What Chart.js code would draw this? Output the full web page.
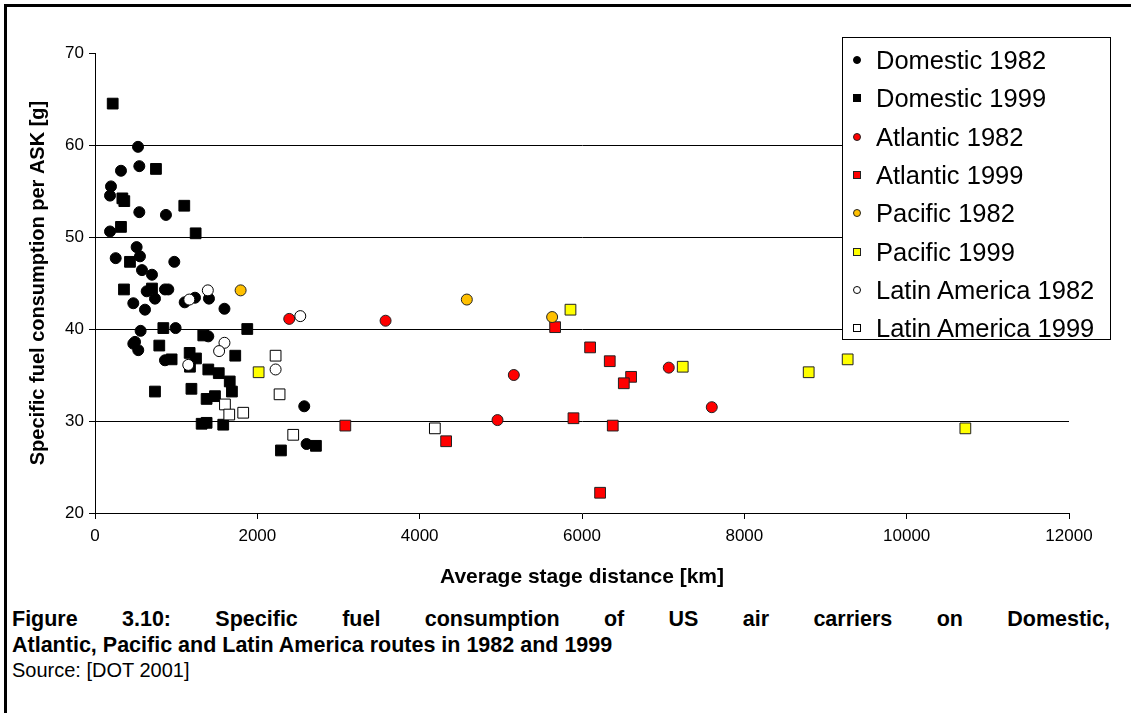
<!DOCTYPE html>
<html>
<head>
<meta charset="utf-8">
<script src="https://cdn.jsdelivr.net/npm/chart.js@4.4.0/dist/chart.umd.min.js"></script>
<style>
  body { margin: 0; background: #fff; font-family: Arial, "Liberation Sans", sans-serif; }
  #wrap { position: relative; width: 1131px; height: 713px; overflow: hidden; background: #fff; }
  #frame { position: absolute; left: 4px; top: 4px; width: 1140px; height: 720px; border-left: 3px solid #000; border-top: 3px solid #000; }
  #chart { position: absolute; left: 0; top: 0; }
  #legend { position: absolute; left: 842px; top: 37px; width: 267px; height: 301px; border: 1px solid #000; background: #fff; }
  .item { position: absolute; left: 0; height: 30px; line-height: 30px; font-size: 25.5px; color: #000; white-space: nowrap; }
  .item span.mk { position: absolute; left: 10px; top: 11px; width: 8px; height: 8px; box-sizing: border-box; }
  .item span.tx { position: absolute; left: 33px; }
  #caption { position: absolute; left: 12px; top: 606px; width: 1098px; font-weight: bold; font-size: 21.5px; line-height: 26px; color: #000; }
  #caption .l1 { text-align: justify; text-align-last: justify; }
  #source { position: absolute; left: 12px; top: 659px; font-size: 20px; color: #000; }
</style>
</head>
<body>
<div id="wrap">
  <div id="frame"></div>
  <canvas id="chart" width="1131" height="592"></canvas>
  <div id="legend"></div>
  <div id="caption">
    <div class="l1">Figure 3.10: Specific fuel consumption of US air carriers on Domestic,</div>
    <div>Atlantic, Pacific and Latin America routes in 1982 and 1999</div>
  </div>
  <div id="source">Source: [DOT 2001]</div>
</div>
<script>
const xTicks = [0, 2000, 4000, 6000, 8000, 10000, 12000];
const yTicks = [20, 30, 40, 50, 60, 70];

const domestic1982X = [530, 546, 320, 197, 185, 546, 874, 185, 513, 255, 554, 977, 579, 702, 637, 862, 903, 472, 616, 739, 1105, 1232, 1404, 1595, 562, 993, 493, 472, 533, 1396, 862, 2578, 2607];
const domestic1982Y = [59.8, 57.7, 57.2, 55.5, 54.5, 52.7, 52.4, 50.6, 48.9, 47.7, 47.9, 47.3, 46.4, 45.9, 44.1, 44.3, 44.3, 42.8, 42.1, 43.3, 42.9, 43.4, 43.3, 42.2, 39.8, 40.1, 38.6, 38.4, 37.7, 39.2, 36.6, 31.6, 27.5];

const domestic1999X = [218, 751, 337, 361, 1100, 320, 1240, 431, 357, 702, 842, 1876, 792, 1334, 1728, 1166, 1244, 944, 1170, 1396, 1525, 1660, 1687, 739, 1188, 1375, 1478, 1314, 1375, 1580, 2722, 2291];
const domestic1999Y = [64.5, 57.4, 54.2, 53.9, 53.4, 51.1, 50.4, 47.3, 44.3, 44.4, 40.1, 40.0, 38.2, 39.3, 37.1, 37.4, 36.8, 36.7, 35.9, 35.6, 35.2, 34.3, 33.2, 33.2, 33.5, 32.4, 32.7, 29.7, 29.8, 29.6, 27.3, 26.8];

const atlantic1982X = [2393, 3580, 4959, 5160, 7069, 7599];
const atlantic1982Y = [41.1, 40.9, 30.1, 35.0, 35.8, 31.5];

const atlantic1999X = [3084, 4326, 5669, 5895, 6100, 6342, 6605, 6515, 6379, 6223];
const atlantic1999Y = [29.5, 27.8, 40.2, 30.3, 38.0, 36.5, 34.8, 34.1, 29.5, 22.2];

const pacific1982X = [1794, 4581, 5632];
const pacific1982Y = [44.2, 43.2, 41.3];

const pacific1999X = [2016, 5858, 7241, 8793, 9273, 10723];
const pacific1999Y = [35.3, 42.1, 35.9, 35.3, 36.7, 29.2];

const latin1982X = [1162, 1390, 2529, 1595, 1529, 1149, 2225];
const latin1982Y = [43.2, 44.2, 41.4, 38.5, 37.6, 36.1, 35.6];

const latin1999X = [2225, 2274, 1601, 1654, 1826, 2442, 4187];
const latin1999Y = [37.1, 32.9, 31.8, 30.7, 30.9, 28.5, 29.2];

function pts(xs, ys) {
  return xs.map((x, i) => ({ x: x, y: ys[i] }));
}

// label, x, y, shape, fill, border
const series = [
  ["Domestic 1982", domestic1982X, domestic1982Y, "circle", "#000000", "#000000"],
  ["Domestic 1999", domestic1999X, domestic1999Y, "rect", "#000000", "#000000"],
  ["Atlantic 1982", atlantic1982X, atlantic1982Y, "circle", "#ff0000", "#222222"],
  ["Atlantic 1999", atlantic1999X, atlantic1999Y, "rect", "#ff0000", "#222222"],
  ["Pacific 1982", pacific1982X, pacific1982Y, "circle", "#ffc000", "#222222"],
  ["Pacific 1999", pacific1999X, pacific1999Y, "rect", "#ffff00", "#222222"],
  ["Latin America 1982", latin1982X, latin1982Y, "circle", "#ffffff", "#000000"],
  ["Latin America 1999", latin1999X, latin1999Y, "rect", "#ffffff", "#000000"]
];

const datasets = series.map((s, i) => ({
  label: s[0],
  data: pts(s[1], s[2]),
  pointStyle: s[3],
  pointRadius: s[3] === "circle" ? 5.5 : 7.6,
  pointBackgroundColor: s[4],
  pointBorderColor: s[5],
  pointBorderWidth: 1,
  order: series.length - i
}));

// legend box
const leg = document.getElementById("legend");
series.forEach((s, i) => {
  const it = document.createElement("div");
  it.className = "item";
  it.style.top = (7 + i * 38.3) + "px";
  const mk = document.createElement("span");
  mk.className = "mk";
  mk.style.background = s[4];
  mk.style.border = "1px solid " + s[5];
  if (s[3] === "circle") mk.style.borderRadius = "50%";
  const tx = document.createElement("span");
  tx.className = "tx";
  tx.textContent = s[0];
  it.appendChild(mk);
  it.appendChild(tx);
  leg.appendChild(it);
});

const tickFont = { family: "Arial, 'Liberation Sans', sans-serif", size: 17 };
const yTitleFont = { family: "Arial, 'Liberation Sans', sans-serif", size: 20, weight: "bold" };
const xTitleFont = { family: "Arial, 'Liberation Sans', sans-serif", size: 21, weight: "bold" };

new Chart(document.getElementById("chart").getContext("2d"), {
  type: "scatter",
  data: { datasets: datasets },
  options: {
    responsive: false,
    animation: false,
    layout: { padding: { left: 0, right: 62, top: 53, bottom: 0 } },
    plugins: { legend: { display: false }, tooltip: { enabled: false } },
    scales: {
      x: {
        type: "linear",
        min: xTicks[0],
        max: xTicks[xTicks.length - 1],
        afterBuildTicks: axis => { axis.ticks = xTicks.map(v => ({ value: v })); },
        afterFit: axis => { axis.height = 79; },
        ticks: { color: "#000", font: tickFont, padding: 7, maxRotation: 0, callback: v => String(v) },
        grid: { drawOnChartArea: false, tickLength: 6, color: "#000", tickColor: "#000" },
        border: { display: true, color: "#000", width: 1 },
        title: { display: true, text: "Average stage distance [km]", color: "#000", font: xTitleFont, padding: { top: 0, bottom: 2 } }
      },
      y: {
        type: "linear",
        min: yTicks[0],
        max: yTicks[yTicks.length - 1],
        afterBuildTicks: axis => { axis.ticks = yTicks.map(v => ({ value: v })); },
        afterFit: axis => { axis.width = 95; },
        ticks: { color: "#000", font: tickFont, padding: 5, callback: v => String(v) },
        grid: {
          tickLength: 6,
          color: c => (c.tick && (c.tick.value === 70 || c.tick.value === 20)) ? "rgba(0,0,0,0)" : "#000",
          tickColor: "#000"
        },
        border: { display: true, color: "#000", width: 1 },
        title: { display: true, text: "Specific fuel consumption per ASK [g]", color: "#000", font: yTitleFont, padding: { top: 26, bottom: 0 } }
      }
    }
  }
});
</script>
</body>
</html>
